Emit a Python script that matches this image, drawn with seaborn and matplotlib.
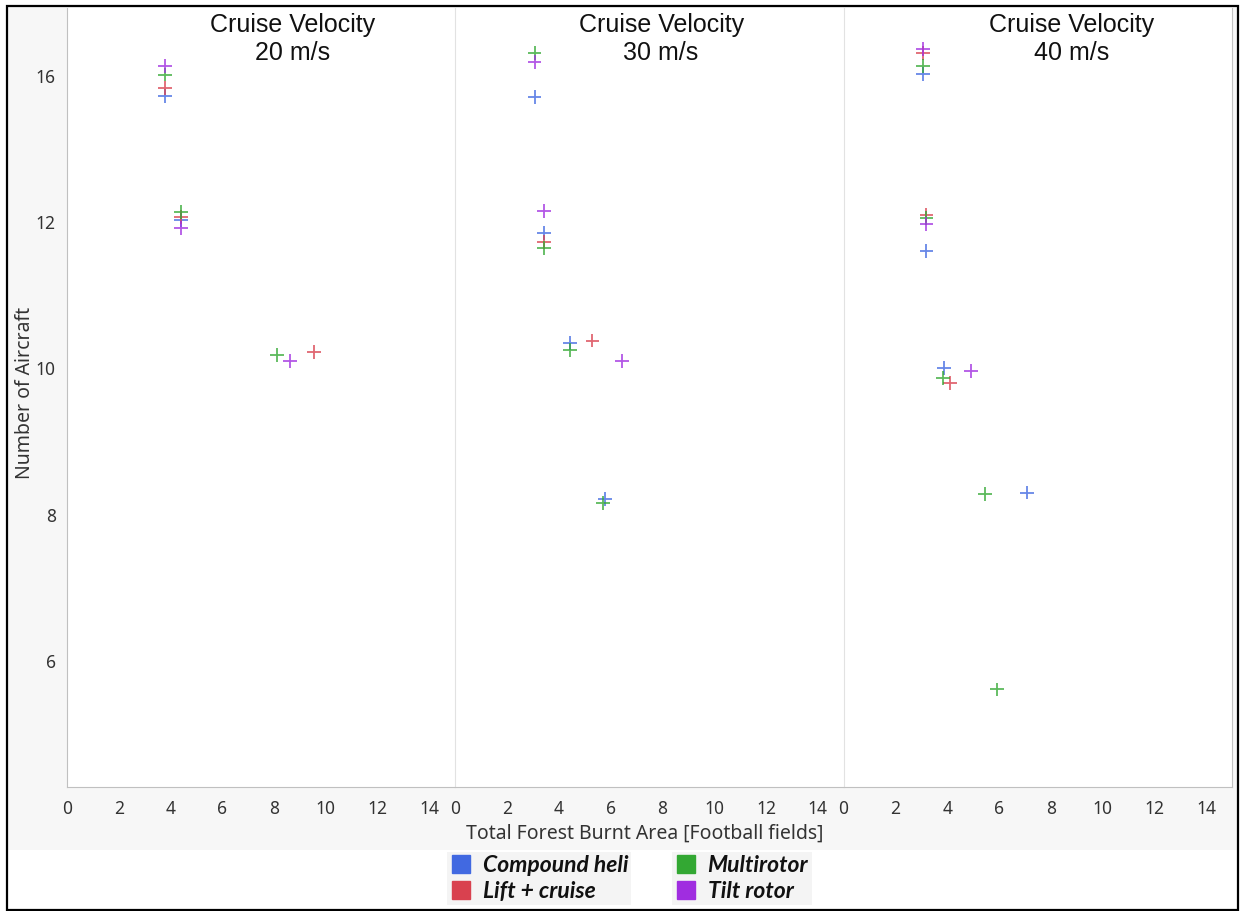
import pandas as pd
import matplotlib.pyplot as plt
import seaborn as sns
from matplotlib.patches import Rectangle
from matplotlib.lines import Line2D

# Data (y is categorical in the original, with jitter)
velocity = [20] * 11 + [30] * 13 + [40] * 15
aircraft_type = [
    'Compound heli', 'Lift + cruise', 'Multirotor', 'Tilt rotor',
    'Compound heli', 'Lift + cruise', 'Multirotor', 'Tilt rotor',
    'Lift + cruise', 'Multirotor', 'Tilt rotor',
    'Compound heli', 'Multirotor', 'Tilt rotor',
    'Compound heli', 'Lift + cruise', 'Multirotor', 'Tilt rotor',
    'Compound heli', 'Lift + cruise', 'Multirotor', 'Tilt rotor',
    'Compound heli', 'Multirotor',
    'Compound heli', 'Lift + cruise', 'Multirotor', 'Tilt rotor',
    'Compound heli', 'Lift + cruise', 'Multirotor', 'Tilt rotor',
    'Compound heli', 'Lift + cruise', 'Multirotor', 'Tilt rotor',
    'Compound heli', 'Multirotor',
    'Multirotor',
]
n_aircraft = [16, 16, 16, 16, 12, 12, 12, 12, 10, 10, 10,
              16, 16, 16, 12, 12, 12, 12, 10, 10, 10, 10, 8, 8,
              16, 16, 16, 16, 12, 12, 12, 12, 10, 10, 10, 10, 8, 8, 6]
burnt_area = [3.8, 3.8, 3.8, 3.8, 4.4, 4.4, 4.4, 4.4, 9.55, 8.13, 8.6,
              3.06, 3.06, 3.06, 3.41, 3.41, 3.41, 3.41, 4.43, 5.30, 4.43, 6.45, 5.78, 5.69,
              3.07, 3.07, 3.07, 3.07, 3.2, 3.2, 3.2, 3.2, 3.88, 4.11, 3.85, 4.91, 7.08, 5.47, 5.92]
jitter = [-0.137, -0.084, 0.007, 0.064, 0.014, 0.036, 0.07, -0.043, 0.11, 0.089, 0.05,
          -0.145, 0.155, 0.094, -0.077, -0.134, -0.18, 0.077, 0.175, 0.19, 0.123, 0.05, 0.109, 0.08,
          0.012, 0.155, 0.068, 0.18, -0.2, 0.048, 0.025, -0.016, 0.0, -0.1, -0.064, -0.02, 0.152, 0.143, -0.193]

levels = [6, 8, 10, 12, 16]
velocities = [20, 30, 40]
types = ['Compound heli', 'Lift + cruise', 'Multirotor', 'Tilt rotor']
colors = ['#4169e1', '#d9414f', '#33a833', '#a02de0']
palette = dict(zip(types, colors))

df = pd.DataFrame({'velocity': velocity, 'type': aircraft_type,
                   'aircraft': n_aircraft, 'area': burnt_area, 'jitter': jitter})
df['ypos'] = df['aircraft'].map({v: i for i, v in enumerate(levels)}) + df['jitter']

sns.set_style('white')
plt.rcParams['font.family'] = ['Noto Sans', 'DejaVu Sans']

g = sns.FacetGrid(df, col='velocity', col_order=velocities, despine=False,
                  sharex=True, sharey=True)
g.map_dataframe(sns.scatterplot, x='area', y='ypos', hue='type', hue_order=types,
                palette=palette, marker='+', s=100, linewidth=1.3, alpha=0.8)
fig = g.figure
fig.set_size_inches(12.4, 9.11)
fig.set_dpi(100)
fig.subplots_adjust(left=0.054, right=0.9935, bottom=0.136, top=0.991, wspace=0)

# Background panels and outer frame
fig.patches.append(Rectangle((7 / 1240, 1 - 850 / 911), 1231 / 1240, 844 / 911,
                             transform=fig.transFigure, facecolor='#f7f7f7',
                             edgecolor='none', zorder=-2))
fig.patches.append(Rectangle((7 / 1240, 1 / 911), 1231 / 1240, 904 / 911,
                             transform=fig.transFigure, facecolor='none',
                             edgecolor='black', linewidth=1.6, zorder=5))

title_x = [0.58, 0.53, 0.586]
for i, (ax, v) in enumerate(zip(g.axes.flat, velocities)):
    ax.set_facecolor('white')
    ax.set_title('')
    ax.set_xlabel('')
    ax.set_ylabel('')
    ax.set_xlim(0, 15)
    ax.set_ylim(-0.86, 4.46)
    ax.set_xticks(range(0, 15, 2))
    ax.set_yticks(range(len(levels)))
    ax.set_yticklabels([str(l) for l in levels])
    ax.tick_params(axis='x', length=5, color='#c0c0c0', labelsize=12.5,
                   labelcolor='#333333', pad=4)
    ax.tick_params(axis='y', length=0, labelsize=12.5, labelcolor='#333333', pad=8)
    ax.spines['top'].set_visible(False)
    ax.spines['right'].set_visible(False)
    ax.spines['bottom'].set_color('#c0c0c0')
    ax.spines['left'].set_color('#c0c0c0' if i == 0 else '#e2e2e2')
    if i == 2:
        ax.spines['right'].set_visible(True)
        ax.spines['right'].set_color('#c0c0c0')
    if ax.get_legend():
        ax.get_legend().remove()
    ax.text(title_x[i], 0.9935, f'Cruise Velocity\n{v} m/s', transform=ax.transAxes,
            ha='center', va='top', fontsize=18, family='Liberation Sans',
            color='#111111', linespacing=1.2)

fig.text(645 / 1240, 1 - 834 / 911, 'Total Forest Burnt Area [Football fields]',
         ha='center', va='center', fontsize=14, color='#333333')
fig.text(25 / 1240, 1 - 393 / 911, 'Number of Aircraft', rotation=90,
         ha='center', va='center', fontsize=14, color='#333333')

# Legend in two boxes
handles = [Line2D([], [], marker='s', linestyle='none', markersize=13,
                  markerfacecolor=c, markeredgecolor=c) for c in colors]
anchors = [(447 / 1240, 1 - 852 / 911), (672 / 1240, 1 - 852 / 911)]
for k in range(2):
    leg = fig.legend(handles[2 * k:2 * k + 2], types[2 * k:2 * k + 2],
                     loc='upper left', bbox_to_anchor=anchors[k], frameon=True,
                     fancybox=False, facecolor='#f4f4f4', edgecolor='none',
                     framealpha=1, handlelength=0.9, handletextpad=0.5,
                     labelspacing=0.18, borderpad=0.15, borderaxespad=0,
                     prop={'family': 'Lato', 'weight': 'bold', 'style': 'italic', 'size': 16.5})
    for t in leg.get_texts():
        t.set_color('#111111')

plt.savefig('out.png', dpi=100)
